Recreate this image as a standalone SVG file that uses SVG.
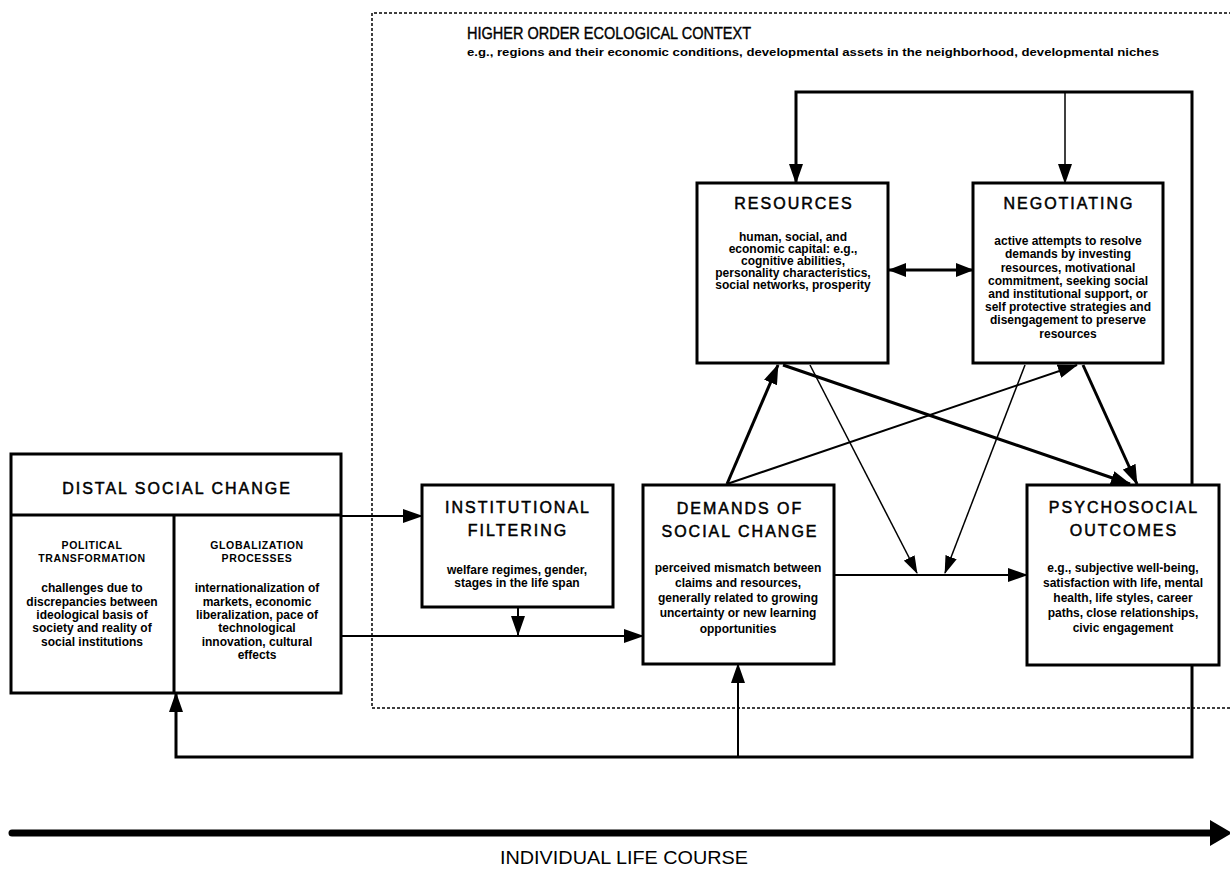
<svg xmlns="http://www.w3.org/2000/svg" width="1230" height="873" viewBox="0 0 1230 873">
<style>
.box{fill:#fff;stroke:#000;stroke-width:3}
.t{font-family:"Liberation Sans",Arial,sans-serif;font-size:16px;letter-spacing:2px;text-anchor:middle;fill:#000;stroke:#000;stroke-width:0.5}
.b{font-family:"Liberation Sans",Arial,sans-serif;font-weight:bold;font-size:12px;text-anchor:middle;fill:#000}
.s{font-family:"Liberation Sans",Arial,sans-serif;font-weight:bold;font-size:10.5px;letter-spacing:0.6px;text-anchor:middle;fill:#000}
.c{fill:none;stroke:#000;stroke-width:3}
.cm{fill:none;stroke:#000;stroke-width:2}
.ct{fill:none;stroke:#000;stroke-width:1.5}
.dash{fill:none;stroke:#000;stroke-width:1.5;stroke-dasharray:3 2}
</style>
<defs>
<marker id="ah" viewBox="0 0 20 14" refX="19" refY="7" markerWidth="20" markerHeight="14" markerUnits="userSpaceOnUse" orient="auto"><path d="M0,0 L20,7 L0,14 z" fill="#000"/></marker>
<marker id="ahs" viewBox="0 0 18 12" refX="17" refY="6" markerWidth="18" markerHeight="12" markerUnits="userSpaceOnUse" orient="auto"><path d="M0,0 L18,6 L0,12 z" fill="#000"/></marker>
<marker id="ahd" viewBox="0 0 18 14" refX="17" refY="7" markerWidth="18" markerHeight="14" markerUnits="userSpaceOnUse" orient="auto-start-reverse"><path d="M0,0 L18,7 L0,14 z" fill="#000"/></marker>
</defs>

<g id="context">
<path class="dash" d="M1232,13 H372 V708 H1232"/>
<text x="467" y="39" font-family="Liberation Sans, Arial, sans-serif" font-size="17" stroke="#000" stroke-width="0.4" textLength="284" lengthAdjust="spacingAndGlyphs">HIGHER ORDER ECOLOGICAL CONTEXT</text>
<text x="467" y="56" font-family="Liberation Sans, Arial, sans-serif" font-weight="bold" font-size="10" textLength="692" lengthAdjust="spacingAndGlyphs">e.g., regions and their economic conditions, developmental assets in the neighborhood, developmental niches</text>
</g>

<g id="connectors">
<path class="c" d="M1192,485 V92 H796 V183" marker-end="url(#ah)"/>
<path class="ct" d="M1065,92 V183" marker-end="url(#ah)"/>
<path class="c" d="M889,270 H973" marker-start="url(#ahd)" marker-end="url(#ahd)"/>
<path class="c" d="M727,484 L778,365" marker-end="url(#ah)"/>
<path class="cm" d="M727,484 L1077,365" marker-end="url(#ah)"/>
<path class="c" d="M783,365 L1130,484" marker-end="url(#ah)"/>
<path class="ct" d="M810,365 L917,573" marker-end="url(#ahs)"/>
<path class="ct" d="M1025,365 L945,573" marker-end="url(#ahs)"/>
<path class="c" d="M1083,365 L1137,484" marker-end="url(#ah)"/>
<path class="cm" d="M834,575 H1027" marker-end="url(#ah)"/>
<path class="cm" d="M341,516 H422" marker-end="url(#ah)"/>
<path class="cm" d="M341,636 H643" marker-end="url(#ah)"/>
<path class="cm" d="M518,607 V635" marker-end="url(#ah)"/>
<path class="c" d="M1192,665 V757 H176 V693" marker-end="url(#ah)"/>
<path class="cm" d="M738,757 V664" marker-end="url(#ah)"/>
</g>

<g id="resources">
<rect class="box" x="697" y="183" width="191" height="180"/>
<text class="t" x="794" y="209">RESOURCES</text>
<text class="b" x="793" y="241" font-size="9.5">human, social, and</text>
<text class="b" x="793" y="253" font-size="9.5">economic capital: e.g.,</text>
<text class="b" x="793" y="265" font-size="9.5">cognitive abilities,</text>
<text class="b" x="793" y="277" font-size="9.5">personality characteristics,</text>
<text class="b" x="793" y="289" font-size="9.5">social networks, prosperity</text>
</g>

<g id="negotiating">
<rect class="box" x="973" y="183" width="190" height="180"/>
<text class="t" x="1069" y="209">NEGOTIATING</text>
<text class="b" x="1068" y="245" font-size="11">active attempts to resolve</text>
<text class="b" x="1068" y="258" font-size="11">demands by investing</text>
<text class="b" x="1068" y="272" font-size="11">resources, motivational</text>
<text class="b" x="1068" y="285" font-size="11">commitment, seeking social</text>
<text class="b" x="1068" y="298" font-size="11">and institutional support, or</text>
<text class="b" x="1068" y="311" font-size="11">self protective strategies and</text>
<text class="b" x="1068" y="324" font-size="11">disengagement to preserve</text>
<text class="b" x="1068" y="338" font-size="11">resources</text>
</g>

<g id="distal">
<rect class="box" x="11" y="454" width="330" height="239"/>
<path class="c" d="M11,515 H341 M174,515 V693"/>
<text class="t" x="177" y="494">DISTAL SOCIAL CHANGE</text>
<text class="s" x="92" y="549">POLITICAL</text>
<text class="s" x="92" y="562">TRANSFORMATION</text>
<text class="b" x="92" y="592">challenges due to</text>
<text class="b" x="92" y="606">discrepancies between</text>
<text class="b" x="92" y="619">ideological basis of</text>
<text class="b" x="92" y="632">society and reality of</text>
<text class="b" x="92" y="646">social institutions</text>
<text class="s" x="257" y="549">GLOBALIZATION</text>
<text class="s" x="257" y="562">PROCESSES</text>
<text class="b" x="257" y="592">internationalization of</text>
<text class="b" x="257" y="606">markets, economic</text>
<text class="b" x="257" y="619">liberalization, pace of</text>
<text class="b" x="257" y="632">technological</text>
<text class="b" x="257" y="646">innovation, cultural</text>
<text class="b" x="257" y="659">effects</text>
</g>

<g id="institutional">
<rect class="box" x="422" y="485" width="191" height="122"/>
<text class="t" x="518" y="513">INSTITUTIONAL</text>
<text class="t" x="518" y="536">FILTERING</text>
<text class="b" x="517" y="574">welfare regimes, gender,</text>
<text class="b" x="517" y="587">stages in the life span</text>
</g>

<g id="demands">
<rect class="box" x="643" y="485" width="191" height="179"/>
<text class="t" x="740" y="514">DEMANDS OF</text>
<text class="t" x="740" y="537">SOCIAL CHANGE</text>
<text class="b" x="738" y="572">perceived mismatch between</text>
<text class="b" x="738" y="587">claims and resources,</text>
<text class="b" x="738" y="602">generally related to growing</text>
<text class="b" x="738" y="617">uncertainty or new learning</text>
<text class="b" x="738" y="633">opportunities</text>
</g>

<g id="psychosocial">
<rect class="box" x="1027" y="485" width="192" height="180"/>
<text class="t" x="1124" y="513">PSYCHOSOCIAL</text>
<text class="t" x="1124" y="536">OUTCOMES</text>
<text class="b" x="1123" y="572">e.g., subjective well-being,</text>
<text class="b" x="1123" y="587">satisfaction with life, mental</text>
<text class="b" x="1123" y="602">health, life styles, career</text>
<text class="b" x="1123" y="617">paths, close relationships,</text>
<text class="b" x="1123" y="632">civic engagement</text>
</g>

<g id="lifecourse">
<path d="M12,833 H1212" fill="none" stroke="#000" stroke-width="7" stroke-linecap="round"/>
<path d="M1210,820 L1232,833 L1210,846 z" fill="#000"/>
<text x="624" y="864" font-family="Liberation Sans, Arial, sans-serif" font-size="18" text-anchor="middle" textLength="248" lengthAdjust="spacingAndGlyphs">INDIVIDUAL LIFE COURSE</text>
</g>
</svg>
